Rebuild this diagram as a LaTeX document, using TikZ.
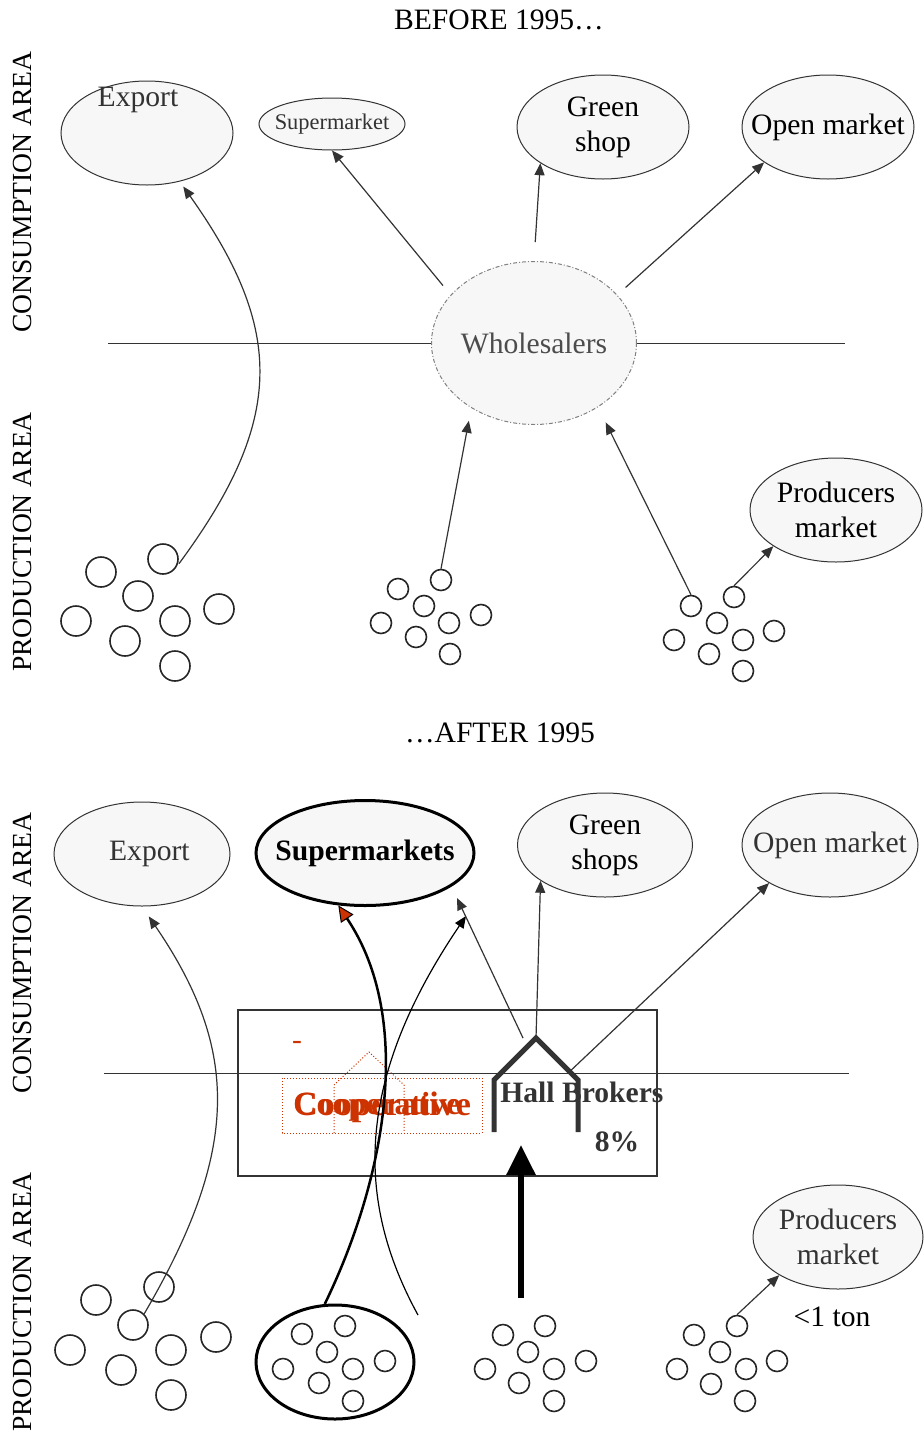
\documentclass[tikz,border=0pt]{standalone}
\usepackage{fontspec}
\setmainfont{Liberation Serif}
\usetikzlibrary{shapes.geometric,arrows.meta,calc}
\definecolor{shade}{HTML}{F7F7F7}
\definecolor{ink}{HTML}{333333}
\definecolor{coopred}{HTML}{CC3300}

\begin{document}
\begin{tikzpicture}[x=0.5pt,y=-0.5pt]

\def\fs{\fontsize{14.8}{17.5}\selectfont}
\tikzstyle{market} = [
	draw=ink, fill=shade, ellipse, inner xsep=-15pt, inner ysep=0pt, line width=0.5pt,
	minimum width=86pt, minimum height=52pt, font=\fs, align=center ];
\tikzstyle{farm} = [draw=black!85, circle, inner sep=0pt, line width=0.8pt, minimum size=10.5pt];
\tikzstyle{bigfarm} = [farm, minimum size=15pt];
\tikzstyle{flow} = [draw=ink, line width=0.6pt, -{Triangle[length=6pt,width=5pt]}];
\tikzstyle{area} = [rotate=90, inner sep=0pt, font=\fontsize{13.8}{15}\selectfont];
\tikzstyle{txt} = [inner sep=0pt, font=\fs];
\useasboundingbox (0,0) rectangle (923,1435);

\node[txt] (before) at (499,20) {BEFORE 1995…};
\node[txt] (after) at (500,733) {…AFTER 1995};
\node[area] (cons1) at (22,192) {CONSUMPTION AREA};
\node[area] (prodn1) at (22,542) {PRODUCTION AREA};
\node[area] (cons2) at (22,953) {CONSUMPTION AREA};
\node[area] (prodn2) at (22,1302) {PRODUCTION AREA};

\coordinate (l1a) at (108,343);
\coordinate (l1b) at (845,343);
\coordinate (l2a) at (104,1073);
\coordinate (l2b) at (849,1073);

\node[market] (exp1) at (147,133) {};
\node[txt, text=ink] (exp1t) at (138,100) {Export};
\node[market, minimum width=73pt, minimum height=26pt, font=\fontsize{11.2}{13}\selectfont, text=ink] (sup1) at (332,124) {Supermarket};
\node[market] (green1) at (603,127) {Green\\shop};
\node[market] (open1) at (828,127) {Open market};
\node[market, minimum width=102.5pt, minimum height=81.5pt, draw=gray,
	dash pattern=on 2pt off 1pt on 0.5pt off 1pt, text=black!70] (whole) at (534,343) {Wholesalers};
\node[market] (prod1) at (836,510) {Producers\\market};

\draw[ink, line width=0.5pt] (l1a) -- (whole.west);
\draw[ink, line width=0.5pt] (whole.east) -- (l1b);

\node[bigfarm] (c1a) at (101,572) {};
\node[bigfarm] (c1b) at (163,559) {};
\node[bigfarm] (c1c) at (138,596) {};
\node[bigfarm] (c1d) at (76,621) {};
\node[bigfarm] (c1e) at (125,641) {};
\node[bigfarm] (c1f) at (175,621) {};
\node[bigfarm] (c1g) at (219,609) {};
\node[bigfarm] (c1h) at (175,666) {};

\node[farm] (c2a) at (441,580) {};
\node[farm] (c2b) at (398,589) {};
\node[farm] (c2c) at (424,606) {};
\node[farm] (c2d) at (381,623) {};
\node[farm] (c2e) at (449,623) {};
\node[farm] (c2f) at (481,615) {};
\node[farm] (c2g) at (416,637) {};
\node[farm] (c2h) at (450,654) {};

\node[farm] (c3a) at (691,606) {};
\node[farm] (c3b) at (734,597) {};
\node[farm] (c3c) at (717,623) {};
\node[farm] (c3d) at (674,640) {};
\node[farm] (c3e) at (743,640) {};
\node[farm] (c3f) at (774,631) {};
\node[farm] (c3g) at (709,654) {};
\node[farm] (c3h) at (743,671) {};

\draw[flow, shorten >=3pt, shorten <=4pt] (c1b.-45) .. controls (285,420) and (285,330) .. (exp1.-56);
\draw[flow, shorten <=6pt] (whole.150) -- (sup1.south);
\draw[flow, shorten <=9.5pt] (whole.north) -- (green1.210);
\draw[flow, shorten <=5.5pt] (whole.30) -- (open1.209);
\draw[flow, shorten >=6.5pt] (c2a.north) -- (whole.226);
\draw[flow, shorten >=8.5pt] (c3a.north) -- (whole.-45);
\draw[flow] (c3b.north) -- (prod1.210);

\node[draw=ink, line width=1pt, minimum width=209.5pt, minimum height=83pt, inner sep=0pt] (hallbox) at (447.5,1093) {};
\draw[ink, line width=0.5pt] (l2a) -- (l2b);

\node[market, minimum width=88pt, text=ink] (exp2) at (142,854) {\ \ Export};
\node[market, minimum width=109pt, minimum height=52.5pt, draw=black, line width=1.5pt,
	font=\fs\bfseries] (sup2) at (365,853) {Supermarkets};
\node[market, minimum width=87.5pt] (green2) at (605,845) {Green\\shops};
\node[market, minimum width=88pt, text=ink] (open2) at (830,845) {Open market};
\node[market, minimum width=85pt, text=ink] (prod2) at (838,1237) {Producers\\market};
\node[txt] (ton) at (832,1317) {<1 ton};

\node[ellipse, draw=black, line width=1.5pt, minimum width=79pt, minimum height=57pt, inner sep=0pt] (coop) at (335,1362) {};

\node[bigfarm] (cb1) at (96,1300) {};
\node[bigfarm] (cb2) at (159,1287) {};
\node[bigfarm] (cb3) at (133,1325) {};
\node[bigfarm] (cb4) at (70,1350) {};
\node[bigfarm] (cb5) at (121,1370) {};
\node[bigfarm] (cb6) at (171,1350) {};
\node[bigfarm] (cb7) at (216,1337) {};
\node[bigfarm] (cb8) at (171,1395) {};

\node[farm] (cc1) at (302,1334) {};
\node[farm] (cc2) at (345,1326) {};
\node[farm] (cc3) at (327,1352) {};
\node[farm] (cc4) at (283,1369) {};
\node[farm] (cc5) at (353,1369) {};
\node[farm] (cc6) at (385,1361) {};
\node[farm] (cc7) at (319,1383) {};
\node[farm] (cc8) at (353,1401) {};

\node[farm] (cd1) at (503,1335) {};
\node[farm] (cd2) at (545,1326) {};
\node[farm] (cd3) at (528,1352) {};
\node[farm] (cd4) at (485,1369) {};
\node[farm] (cd5) at (554,1369) {};
\node[farm] (cd6) at (586,1361) {};
\node[farm] (cd7) at (519,1383) {};
\node[farm] (cd8) at (554,1401) {};

\node[farm] (ce1) at (694,1335) {};
\node[farm] (ce2) at (737,1326) {};
\node[farm] (ce3) at (720,1352) {};
\node[farm] (ce4) at (677,1369) {};
\node[farm] (ce5) at (746,1369) {};
\node[farm] (ce6) at (777,1361) {};
\node[farm] (ce7) at (711,1384) {};
\node[farm] (ce8) at (745,1401) {};

\draw[coopred, densely dotted, line width=0.5pt] (282,1078) rectangle (482,1133);
\draw[coopred, densely dotted, line width=0.5pt] (334,1133) -- (334,1085) -- (369,1052) -- (404,1085) -- (404,1133);
\node[txt, text=coopred] (dash) at (297,1045) {-};
\node[txt, anchor=west, text=coopred, font=\fontsize{16}{18}\selectfont\bfseries] (coopa) at (293,1107) {Cooperative};
\node[txt, anchor=west, text=coopred, font=\fontsize{17}{18}\selectfont\bfseries] (coopb) at (293,1107) {Cooperative};

\coordinate (hbl) at (494,1132);
\coordinate (hbl2) at (494,1080);
\coordinate (hbtop) at (536,1038);
\coordinate (hbr2) at (578,1080);
\coordinate (hbr) at (578,1132);
\node[txt, anchor=west, text=ink, font=\fs\bfseries] (hall) at (500,1092) {Hall Brokers};
\node[txt, text=ink, font=\fs\bfseries] (pct) at (617,1142) {8\%};
\draw[ink, line width=2.5pt] (hbl) -- (hbl2) -- (hbtop) -- (hbr2) -- (hbr);

\coordinate (coopout) at (418,1315);
\coordinate (suptip1) at (457,898);
\coordinate (suptip2) at (466,916);
\coordinate (bigfrom) at (521,1298);
\coordinate (bigto) at (521,1145);

\draw[flow, shorten >=6pt] (cb3.45) .. controls (240,1150) and (240,1050) .. (exp2.south);
\draw[black, line width=1.25pt, -{Triangle[length=8pt,width=7.5pt,fill=coopred,line width=0.5pt]}] (coop.100) .. controls (385,1180) and (415,1020) .. (sup2.243);
\draw[flow, draw=black] (coopout) .. controls (355,1200) and (355,1080) .. (suptip2);
\draw[flow] ([xshift=-6.5pt]hbtop) -- (suptip1);
\draw[flow] (hbtop) -- (green2.209);
\draw[flow] ($(hbtop)!0.8!(hbr2)$) -- (open2.212);
\draw[black, line width=3pt, -{Triangle[length=15pt,width=14pt]}] (bigfrom) -- (bigto);
\draw[flow] (ce2.north) -- (prod2.213);

\end{tikzpicture}
\end{document}
